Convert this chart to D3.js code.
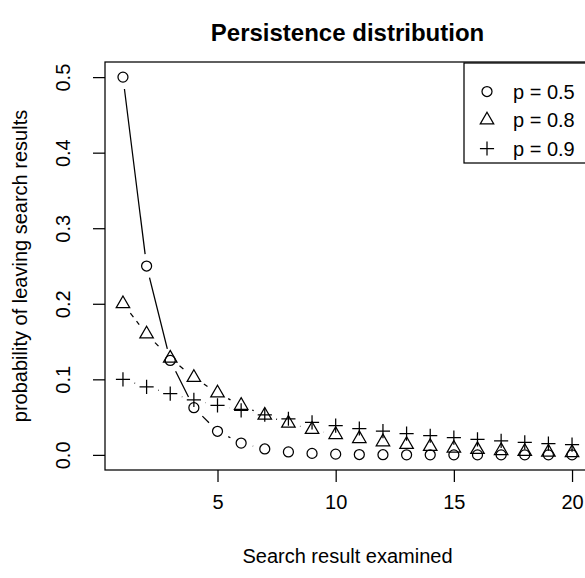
<!DOCTYPE html>
<html>
<head>
<meta charset="utf-8">
<script src="https://cdn.jsdelivr.net/npm/d3@7"></script>
<style>
	body { margin: 0; background: #fff; }
	text { font-family: "Liberation Sans", Arial, sans-serif; fill: #000; }
</style>
</head>
<body>
<div id="chart"></div>
<script>

// values (search result 1..20)
var positions = [1,2,3,4,5,6,7,8,9,10,11,12,13,14,15,16,17,18,19,20];
var p05 = [0.5, 0.25, 0.125, 0.0625, 0.03125, 0.0156, 0.0078, 0.0039, 0.002, 0.001,
	0.0005, 0.0002, 0.0001, 0.00006, 0.00003, 0.000015, 0.000008, 0.000004, 0.000002, 0.000001];
var p08 = [0.2, 0.16, 0.128, 0.1024, 0.0819, 0.0655, 0.0524, 0.0419, 0.0336, 0.0268,
	0.0215, 0.0172, 0.0137, 0.011, 0.0088, 0.007, 0.0056, 0.0045, 0.0036, 0.0029];
var p09 = [0.1, 0.09, 0.081, 0.0729, 0.0656, 0.059, 0.0531, 0.0478, 0.043, 0.0387,
	0.0349, 0.0314, 0.0282, 0.0254, 0.0229, 0.0206, 0.0185, 0.0167, 0.015, 0.0135];
var xTicks = [5, 10, 15, 20];
var yTicks = [0.0, 0.1, 0.2, 0.3, 0.4, 0.5];
var legendLabels = ["p = 0.5", "p = 0.8", "p = 0.9"];

var series = [
	{name: legendLabels[0], values: p05, pch: "circle", dash: null},
	{name: legendLabels[1], values: p08, pch: "triangle", dash: "5,5"},
	{name: legendLabels[2], values: p09, pch: "plus", dash: "1.25,3.75"}
];

var W = 585, H = 578;
var plotLeft = 105, plotRight = 590, plotTop = 62, plotBottom = 470;
var lw = 1.25;

var x = d3.scaleLinear().domain([0.24, 20.76]).range([plotLeft, plotRight]);
var y = d3.scaleLinear().domain([-0.02, 0.52]).range([plotBottom, plotTop]);

var svg = d3.select("#chart")
	.append("svg")
	.attr("width", W)
	.attr("height", H);

// symbol paths like R's pch 1, 2, 3
var R = 5;
function symbol(g, type, cx, cy) {
	if (type == "circle") {
		g.append("circle").attr("cx", cx).attr("cy", cy).attr("r", R);
	} else if (type == "triangle") {
		var r = 1.555 * R, xc = 1.347 * R, yc = 0.778 * R;
		g.append("path").attr("d", "M" + cx + "," + (cy - r) +
			"L" + (cx + xc) + "," + (cy + yc) + "L" + (cx - xc) + "," + (cy + yc) + "Z");
	} else {
		var s = 1.414 * R;
		g.append("path").attr("d", "M" + (cx - s) + "," + cy + "H" + (cx + s) +
			"M" + cx + "," + (cy - s) + "V" + (cy + s));
	}
}

// type = "b": segments with a gap round every point
var gap = 12;
series.forEach(function (s) {
	var g = svg.append("g")
		.attr("fill", "none")
		.attr("stroke", "#000")
		.attr("stroke-width", lw);
	for (var i = 1; i < positions.length; i++) {
		var x0 = x(positions[i - 1]), y0 = y(s.values[i - 1]);
		var x1 = x(positions[i]), y1 = y(s.values[i]);
		var f = gap / Math.hypot(x1 - x0, y1 - y0);
		if (f < 0.5) {
			g.append("line")
				.attr("x1", x0 + f * (x1 - x0)).attr("y1", y0 + f * (y1 - y0))
				.attr("x2", x1 - f * (x1 - x0)).attr("y2", y1 - f * (y1 - y0))
				.attr("stroke-dasharray", s.dash);
		}
	}
	positions.forEach(function (p, i) {
		symbol(g, s.pch, x(p), y(s.values[i]));
	});
});

// box
svg.append("rect")
	.attr("x", plotLeft).attr("y", plotTop)
	.attr("width", plotRight - plotLeft).attr("height", plotBottom - plotTop)
	.attr("fill", "none").attr("stroke", "#000").attr("stroke-width", lw);

// x axis
var xa = svg.append("g")
	.attr("transform", "translate(0," + plotBottom + ")")
	.call(d3.axisBottom(x).tickValues(xTicks).tickSize(12).tickPadding(0).tickFormat(d3.format("d")));
xa.select(".domain").remove();
xa.selectAll("line").attr("stroke-width", lw);
xa.selectAll("text")
	.attr("y", 39).attr("dy", null)
	.style("font-size", "20px").style("font-family", "Liberation Sans, Arial, sans-serif");

// y axis
var ya = svg.append("g")
	.attr("transform", "translate(" + plotLeft + ",0)")
	.call(d3.axisLeft(y).tickValues(yTicks).tickSize(12).tickFormat(d3.format(".1f")));
ya.select(".domain").remove();
ya.selectAll("line").attr("stroke-width", lw);
ya.selectAll("text")
	.attr("x", null).attr("dy", null)
	.attr("text-anchor", "middle")
	.attr("transform", "translate(-35,0) rotate(-90)")
	.style("font-size", "20px").style("font-family", "Liberation Sans, Arial, sans-serif");

// titles
svg.append("text")
	.attr("x", (plotLeft + plotRight) / 2).attr("y", 41)
	.attr("text-anchor", "middle")
	.style("font-size", "24px").style("font-weight", "bold")
	.text("Persistence distribution");

svg.append("text")
	.attr("x", (plotLeft + plotRight) / 2).attr("y", 563)
	.attr("text-anchor", "middle")
	.style("font-size", "20px")
	.text("Search result examined");

svg.append("text")
	.attr("transform", "translate(27," + (plotTop + plotBottom) / 2 + ") rotate(-90)")
	.attr("text-anchor", "middle")
	.style("font-size", "20px")
	.text("probability of leaving search results");

// legend
var legend = svg.append("g");
legend.append("rect")
	.attr("x", 464).attr("y", 63)
	.attr("width", 140).attr("height", 100)
	.attr("fill", "#fff").attr("stroke", "#000").attr("stroke-width", lw);
series.forEach(function (s, i) {
	var ly = 91.5 + i * 28.5;
	var g = legend.append("g")
		.attr("fill", "none").attr("stroke", "#000").attr("stroke-width", lw);
	symbol(g, s.pch, 487, ly);
	legend.append("text")
		.attr("x", 513).attr("y", ly)
		.attr("dy", "0.35em")
		.style("font-size", "20px")
		.text(s.name);
});

</script>
</body>
</html>
